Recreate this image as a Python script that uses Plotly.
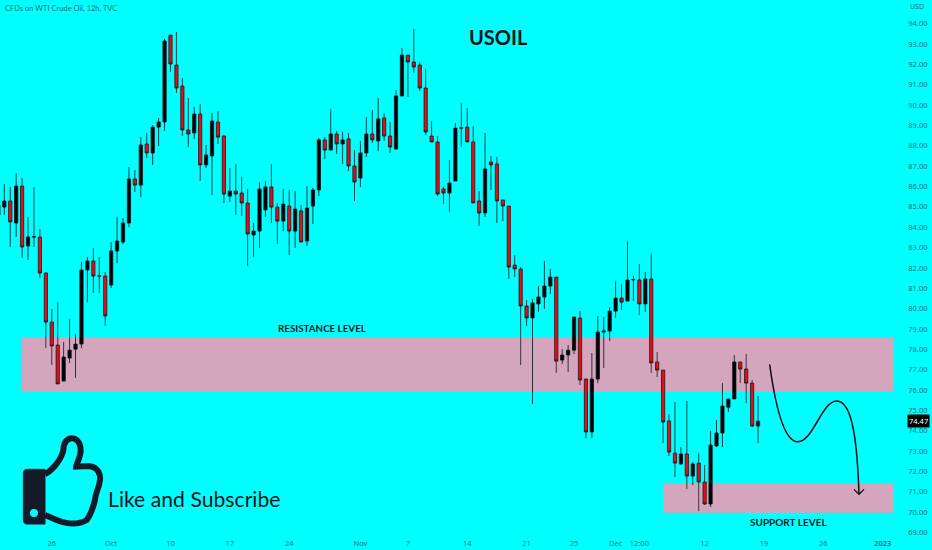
import plotly.graph_objects as go

opens = [84.60,84.99,85.29,84.21,86.02,83.08,83.54,83.52,81.75,79.34,78.21,76.44,77.57,78.01,78.26,81.9,82.34,81.62,81.6,81.16,82.83,83.27,84.21,86.37,86.07,88.09,87.65,88.92,89.17,93.44,91.97,90.94,88.78,88.63,89.56,87.06,87.5,89.17,88.48,85.53,85.78,85.68,85.19,83.62,83.81,84.85,85.98,84.99,84.3,85.04,83.81,84.8,83.32,85.04,85.83,88.29,87.79,88.58,88.09,88.34,87.01,86.42,87.65,88.58,88.24,89.37,88.48,87.84,90.45,92.46,92.12,91.97,90.84,88.48,88.19,85.88,85.68,86.27,88.89,88.92,88.19,85.29,84.7,87.2,87.11,85.34,85.04,82.14,81.95,80.13,79.54,80.23,80.57,81.11,81.55,77.47,77.72,77.96,79.54,76.54,73.94,76.54,78.85,78.9,79.88,80.52,80.37,81.41,81.41,80.23,81.46,77.38,76.98,74.48,72.9,72.37,72.86,71.77,72.41,71.48,70.4,73.25,73.89,75.16,75.56,77.38,77.03,76.34,74.23]
highs = [85.34,86.12,85.98,86.66,86.42,84.5,85.98,83.91,81.8,79.98,80.32,78.36,79.49,78.75,82.29,82.54,82.98,82.54,81.8,83.27,84.5,84.45,86.96,86.81,88.43,88.63,89.02,89.37,93.25,93.44,93.59,91.33,90.35,89.91,90.05,88.04,89.61,89.71,88.53,86.91,87.11,86.47,85.88,84.21,86.22,86.27,87.11,85.19,85.88,85.83,85.78,85.09,86.02,85.93,88.38,88.43,89.81,88.73,88.68,88.63,87.79,88.24,89.42,89.76,90.35,89.61,89.17,90.74,92.81,92.46,93.74,92.12,91.77,89.22,88.48,85.98,87.3,89.12,90.1,89.86,88.97,85.78,88.63,87.5,87.45,85.34,85.04,82.63,82.04,80.42,80.47,81.11,82.34,81.95,81.55,78.01,78.21,79.59,79.88,76.54,77.82,79.64,79.59,80.08,81.36,81.21,83.32,81.6,82.19,81.8,82.73,77.87,76.98,74.82,75.41,73.2,75.46,72.46,72.9,72.32,73.99,74.53,76.34,75.56,77.72,77.38,77.77,76.49,75.71]
lows = [83.62,84.60,83.03,83.52,82.49,82.39,83.03,81.5,78.06,77.23,76.3,76.44,77.33,76.59,78.06,80.32,80.77,80.77,79.15,81.01,82.24,83.17,84.01,85.73,85.48,87.4,87.06,87.99,88.73,91.63,90.6,88.48,87.94,88.34,86.27,86.91,85.58,88.09,85.19,85.24,84.6,84.55,82.09,82.54,82.98,84.5,84.21,83.17,83.81,82.63,82.98,83.27,83.08,84.16,85.53,87.35,87.79,87.6,87.11,86.76,85.29,85.98,87.45,88.14,87.74,88.24,87.65,87.84,90.45,90.4,91.58,90.69,88.53,88.19,85.53,85.14,84.75,86.27,87.94,88.19,85.19,84.06,84.5,85.83,84.21,84.3,81.46,81.55,77.23,79.15,75.31,79.83,79.98,80.72,76.84,77.28,76.89,77.77,76.25,73.64,73.64,76.34,77.08,78.41,79.54,79.93,80.37,80.37,79.69,79.83,76.84,76.64,73.4,72.76,71.72,72.32,71.13,71.33,70.05,70.35,70.25,73.2,73.2,74.92,75.56,76.34,75.36,74.18,73.4]
closes = [85.09,85.29,84.26,86.02,83.03,83.52,83.52,81.75,79.34,78.16,76.3,77.62,77.96,78.26,81.9,82.34,81.6,81.6,79.64,82.83,83.32,84.21,86.37,86.07,88.04,87.65,88.92,89.17,93.15,92.02,90.84,88.78,88.58,89.56,87.06,87.55,89.22,88.43,85.63,85.78,85.63,85.19,83.67,83.81,85.88,85.98,84.99,84.3,85.14,83.81,84.89,83.27,84.94,85.83,88.29,87.79,88.58,88.09,88.29,87.01,86.22,87.65,88.58,88.29,89.32,88.48,87.94,90.45,92.46,92.12,91.87,90.84,88.68,88.19,85.63,85.68,86.17,88.87,88.87,88.19,85.19,84.7,86.86,87.06,85.29,85.04,82.04,81.95,80.13,79.54,80.28,80.57,81.11,81.55,77.42,77.72,77.96,79.59,76.49,73.94,76.54,78.85,78.9,79.88,80.52,80.32,81.41,81.43,80.23,81.46,77.33,76.98,74.43,72.95,72.41,72.86,71.77,72.37,71.48,70.4,73.3,73.89,75.21,75.56,77.38,77.03,76.34,74.23,74.47]
first_index = -1

price_ticks = list(range(69, 95))
date_tick_index = [8, 18, 28, 38, 48, 60, 68, 78, 88, 96, 103, 107, 118, 128, 138, 148]
date_tick_text = ["26", "Oct", "10", "17", "24", "Nov", "7", "14", "21", "25", "Dec", "12:00", "12", "19", "26", "<b>2023</b>"]
resistance_zone = (75.93, 78.57)
support_zone = (69.97, 71.38)
last_price = 74.47

W, H = 932, 550
BG = "#00ffff"
ZONE = "#d3a6bd"
TICK = "#1c6f74"
INK = "#0c1c20"

def px(x):
    return x / W
def py(y):
    return 1 - y / H
def path(cmds):
    out = []
    for c in cmds:
        if isinstance(c, str):
            out.append(c)
        else:
            out.append(f"{px(c[0]):.5f},{py(c[1]):.5f}")
    return " ".join(out)
def z2(x, y):
    return (x / 3, 250 + y / 3)
def z6(x, y):
    return (700 + x / 3, 340 + y / 3)

fig = go.Figure(go.Candlestick(
    x=[first_index + i for i in range(len(opens))],
    open=opens, high=highs, low=lows, close=closes,
    whiskerwidth=0,
    increasing=dict(line=dict(color="#06131a", width=0.8), fillcolor="#000000"),
    decreasing=dict(line=dict(color="#20161a", width=0.8), fillcolor="#e80c14"),
    hoverinfo="skip",
))

shapes = [
    dict(type="rect", layer="below", xref="paper", yref="y", x0=px(22), x1=px(894),
         y0=resistance_zone[0], y1=resistance_zone[1], fillcolor=ZONE, line_width=0),
    dict(type="rect", layer="below", xref="paper", yref="y", x0=px(663), x1=px(894),
         y0=support_zone[0], y1=support_zone[1], fillcolor=ZONE, line_width=0),
    # drawn projection curve and arrow head
    dict(type="path", xref="paper", yref="paper", line=dict(color="#0a0f14", width=1.5),
         path=path(["M", z6(209, 73), "C", z6(225, 190), z6(250, 305), z6(293, 305),
                    "C", z6(340, 305), z6(365, 183), z6(410, 183),
                    "C", z6(460, 183), z6(472, 320), z6(477, 462)])),
    dict(type="path", xref="paper", yref="paper", line=dict(color="#0a0f14", width=1.3),
         path=path(["M", z6(462, 448), "L", z6(477, 463), "L", z6(492, 448)])),
    # thumbs-up icon
    dict(type="path", xref="paper", yref="paper", fillcolor="#141a28", line=dict(color="#141a28", width=1),
         path=path(["M", z2(82, 658), "L", z2(135, 658), "L", z2(135, 822), "L", z2(82, 822),
                    "Q", z2(70, 822), z2(70, 810), "L", z2(70, 670), "Q", z2(70, 658), z2(82, 658), "Z"])),
    dict(type="path", xref="paper", yref="paper", line=dict(color="#141a28", width=6),
         path=path(["M", z2(135, 672), "C", z2(160, 660), z2(185, 625), z2(190, 600),
                    "C", z2(190, 575), z2(205, 562), z2(220, 565),
                    "C", z2(240, 570), z2(245, 595), z2(240, 615),
                    "C", z2(235, 635), z2(228, 645), z2(228, 650),
                    "L", z2(265, 648), "C", z2(295, 650), z2(305, 675), z2(298, 700),
                    "C", z2(295, 720), z2(285, 730), z2(285, 750),
                    "C", z2(280, 770), z2(275, 790), z2(260, 810),
                    "C", z2(235, 825), z2(200, 822), z2(170, 810), "L", z2(135, 795)])),
    dict(type="circle", xref="paper", yref="paper", fillcolor=BG, line_width=0,
         x0=px(30), x1=px(38), y0=py(517), y1=py(509)),
]

def label(text, x, y, size, color=INK, font="Noto Sans", xanchor="center"):
    return dict(text=text, xref="paper", yref="paper", x=px(x), y=py(y), showarrow=False,
                xanchor=xanchor, yanchor="middle",
                font=dict(family=font, size=size, color=color))

annotations = [
    label("CFDs on WTI Crude Oil, 12h, TVC", 3, 9, 7.5, TICK, font="Lato", xanchor="left"),
    label("USD", 917, 7, 7, TICK),
    label("<b>USOIL</b>", 498, 37, 20, "#08141c", font="Lato"),
    label("<b>RESISTANCE LEVEL</b>", 322, 328, 9.8, font="Lato"),
    label("<b>SUPPORT LEVEL</b>", 788, 522, 10, font="Lato"),
    label("Like and Subscribe", 193.5, 499, 21.2, "#0c1820", font="Lato"),
    dict(text=f"{last_price:.2f}", xref="paper", yref="y", x=px(918.5), y=last_price, showarrow=False,
         xanchor="center", yanchor="middle",
         font=dict(family="Noto Sans", size=7.5, color="#ffffff"), bgcolor="#000000", borderpad=1),
]

fig.update_layout(
    width=W, height=H, margin=dict(l=0, r=0, t=0, b=0),
    paper_bgcolor=BG, plot_bgcolor=BG, showlegend=False, boxgap=0.22,
    shapes=shapes, annotations=annotations,
    xaxis=dict(range=[-0.725, 156.31], rangeslider=dict(visible=False), showgrid=False, zeroline=False,
               tickmode="array", tickvals=date_tick_index, ticktext=date_tick_text,
               ticklabelposition="inside", ticks="inside", ticklen=1, tickcolor="rgba(0,0,0,0)",
               tickfont=dict(family="Noto Sans", size=7.5, color=TICK), showline=False),
    yaxis=dict(range=[68.14, 95.165], side="right", showgrid=False, zeroline=False,
               tickmode="array", tickvals=price_ticks, ticktext=[f"{p:.2f}" for p in price_ticks],
               ticklabelposition="inside", ticks="inside", ticklen=3, tickcolor="rgba(0,0,0,0)",
               tickfont=dict(family="Noto Sans", size=7.5, color=TICK), showline=False),
)

fig.write_html("out.html", config={"displayModeBar": False},
               post_script="document.body.style.margin='0';document.body.style.overflow='hidden';document.body.style.background='#00ffff';")
